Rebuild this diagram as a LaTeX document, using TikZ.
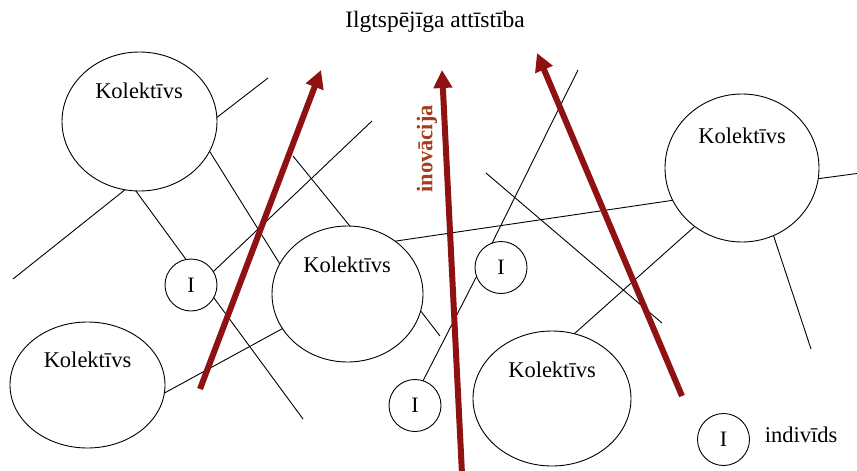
\documentclass[tikz,border=0pt]{standalone}
\usepackage{fontspec}
\setmainfont{Liberation Serif}
\usetikzlibrary{shapes.geometric,arrows.meta}
\definecolor{arrowred}{RGB}{142,18,18}
\definecolor{inocol}{RGB}{165,62,30}
\tikzset{
  kol/.style={ellipse,draw,fill=white,line width=0.9pt,inner sep=0pt,outer sep=0pt},
  indiv/.style={circle,draw,fill=white,line width=0.9pt,inner sep=0pt,outer sep=0pt,minimum size=52pt,font=\fontsize{22}{24}\selectfont},
  txt/.style={inner sep=0pt,font=\fontsize{22.5}{24}\selectfont},
  link/.style={line width=0.9pt},
  bigarrow/.style={draw=arrowred,line width=6pt,-{Triangle[length=18pt,width=18pt]}}
}
\begin{document}
\begin{tikzpicture}[x=1pt,y=-1pt]
\useasboundingbox (0,0) rectangle (857,471);
% free line ends
\coordinate (f1) at (268,78);
\coordinate (f2) at (13,279);
\coordinate (f5) at (293,156);
\coordinate (f6) at (372,121);
\coordinate (f7) at (303,419);
\coordinate (f9) at (857,173.5);
\coordinate (f10) at (440,336);
\coordinate (f12) at (578,70);
\coordinate (f13a) at (486,173);
\coordinate (f13b) at (662,323);
\coordinate (f15) at (811,349);
% arrow ends
\coordinate (r1s) at (200,389);
\coordinate (r1e) at (321,70);
\coordinate (r2s) at (462,474);
\coordinate (r2e) at (442,70);
\coordinate (r3s) at (682,396);
\coordinate (r3e) at (537,53);

% collectives
\node[kol,minimum width=155pt,minimum height=139pt] (k1) at (139.5,121.5) {};
\node[kol,minimum width=151pt,minimum height=136pt] (k2) at (347.5,294) {};
\node[kol,minimum width=155pt,minimum height=126pt] (k3) at (87.5,385) {};
\node[kol,minimum width=154pt,minimum height=148pt] (k4) at (742,168) {};
\node[kol,minimum width=158pt,minimum height=135pt] (k5) at (552,398.5) {};
% individuals
\node[indiv] (ia) at (191,285) {I};
\node[indiv] (ib) at (501,267.5) {I};
\node[indiv] (ic) at (415,405.5) {I};
\node[indiv] (il) at (723.5,439.5) {I};

% links
\draw[link] (k1.3.3) -- (f1);
\draw[link] (k1.-102) -- (f2);
\draw[link] (k1.-93) -- (ia.101);
\draw[link] (k1.-23.7) -- (k2.156.6);
\draw[link] (f5) -- (k2.88);
\draw[link] (f6) -- (ia.31);
\draw[link] (ia.-29.5) -- (f7);
\draw[link] (k3.-6.6) -- (k2.208);
\draw[link] (k2.48.1) -- (k4.205.6);
\draw[link] (k4.-8.1) -- (f9);
\draw[link] (k2.-13.2) -- (f10);
\draw[link] (ic.72.6) -- (ib.200);
\draw[link] (ib.110) -- (f12);
\draw[link] (f13a) -- (f13b);
\draw[link] (k5.71.4) -- (k4.231.3);
\draw[link] (k4.-65.8) -- (f15);

% texts
\node[txt] (t1) at (139,91) {Kolektīvs};
\node[txt] (t2) at (347,265) {Kolektīvs};
\node[txt] (t3) at (87.5,360) {Kolektīvs};
\node[txt] (t4) at (742,136) {Kolektīvs};
\node[txt] (t5) at (552,370) {Kolektīvs};
\node[txt,font=\fontsize{23.5}{26}\selectfont] (title) at (435,22) {Ilgtspējīga attīstība};
\node[txt] (legend) at (801,435) {indivīds};
\node[txt,rotate=90,text=inocol,font=\fontsize{22.5}{24}\selectfont\bfseries] (ino) at (427,149) {inovācija};

% arrows
\draw[bigarrow] (r1s) -- (r1e);
\draw[bigarrow] (r2s) -- (r2e);
\draw[bigarrow] (r3s) -- (r3e);
\end{tikzpicture}
\end{document}
